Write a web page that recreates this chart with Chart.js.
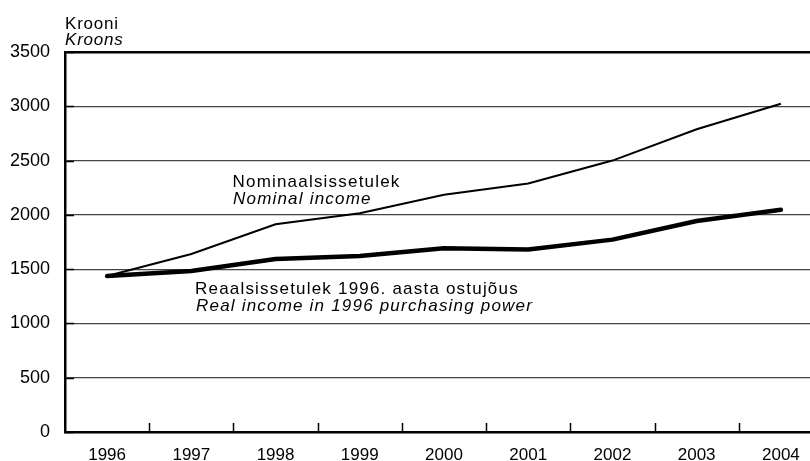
<!DOCTYPE html>
<html><head><meta charset="utf-8">
<script src="https://cdn.jsdelivr.net/npm/chart.js@4.4.0/dist/chart.umd.min.js"></script>
<style>
html,body{margin:0;padding:0;overflow:hidden;background:#fff;width:810px;height:461px}
#wrap{width:831px;height:461px;position:relative}
</style></head>
<body><div id="wrap"><canvas id="c" width="831" height="461"></canvas></div>
<script>
const years = ['1996','1997','1998','1999','2000','2001','2002','2003','2004'];
const nominal = [1436,1640,1913,2015,2185,2288,2500,2788,3024];
const real = [1436,1483,1593,1621,1692,1681,1772,1943,2047];
const yTicks = [0,500,1000,1500,2000,2500,3000,3500];
const yTitle = ['Krooni','Kroons'];
const nominalLabel = ['Nominaalsissetulek','Nominal income'];
const realLabel = ['Reaalsissetulek 1996. aasta ostujõus','Real income in 1996 purchasing power'];

const FONT = "'Liberation Sans', Arial, sans-serif";

const deco = {
  id: 'deco',
  afterDraw(chart) {
    const ctx = chart.ctx, xs = chart.scales.x, ys = chart.scales.y, a = chart.chartArea;
    ctx.save();
    ctx.strokeStyle = '#000';
    ctx.lineWidth = 1.5;
    yTicks.forEach(v => {
      const py = Math.round(ys.getPixelForValue(v)) + 0.5;
      ctx.beginPath(); ctx.moveTo(a.left, py); ctx.lineTo(a.left + 9, py); ctx.stroke();
    });
    for (let i = 1; i < years.length; i++) {
      const px = Math.round((xs.getPixelForValue(i - 1) + xs.getPixelForValue(i)) / 2) + 0.5;
      ctx.beginPath(); ctx.moveTo(px, a.bottom); ctx.lineTo(px, a.bottom - 9); ctx.stroke();
    }
    ctx.fillStyle = '#000';
    ctx.textBaseline = 'alphabetic';
    ctx.textAlign = 'left';
    ctx.letterSpacing = '0.8px';
    ctx.font = '17px ' + FONT;
    ctx.fillText(yTitle[0], 65, 28.5);
    ctx.font = 'italic 17px ' + FONT;
    ctx.fillText(yTitle[1], 65, 45);
    ctx.letterSpacing = '1.2px';
    ctx.font = '17px ' + FONT;
    ctx.fillText(nominalLabel[0], 232.5, 186.7);
    ctx.font = 'italic 17px ' + FONT;
    ctx.fillText(nominalLabel[1], 233, 204.3);
    ctx.font = '17px ' + FONT;
    ctx.fillText(realLabel[0], 195, 294.3);
    ctx.font = 'italic 17px ' + FONT;
    ctx.fillText(realLabel[1], 196, 310.7);
    ctx.restore();
  }
};

new Chart(document.getElementById('c'), {
  type: 'line',
  data: {
    labels: years,
    datasets: [
      { label: 'Nominal', data: nominal, borderColor: '#000', borderWidth: 2, pointRadius: 0, tension: 0, fill: false },
      { label: 'Real', data: real, borderColor: '#000', borderWidth: 4.5, pointRadius: 0, tension: 0, fill: false, borderCapStyle: 'round', borderJoinStyle: 'round' }
    ]
  },
  options: {
    responsive: false,
    devicePixelRatio: 1,
    animation: false,
    layout: { padding: { top: 52, right: 8, left: 0, bottom: 0 } },
    plugins: { legend: { display: false }, tooltip: { enabled: false } },
    scales: {
      x: {
        offset: true,
        grid: { display: false, drawTicks: false },
        border: { display: true, color: '#000', width: 2.5 },
        ticks: { color: '#000', font: { family: FONT, size: 17 }, padding: 13, maxRotation: 0, autoSkip: false },
        afterFit(s) { s.height = 29; }
      },
      y: {
        min: 0, max: 3500,
        afterBuildTicks(s) { s.ticks = yTicks.map(v => ({ value: v })); },
        grid: {
          drawTicks: false, tickLength: 0,
          color: c => c.tick && c.tick.value === 3500 ? '#000' : '#444',
          lineWidth: c => c.tick && c.tick.value === 3500 ? 2.5 : 1.2
        },
        border: { display: true, color: '#000', width: 2.5 },
        ticks: { color: '#000', font: { family: FONT, size: 18 }, padding: 15, callback: v => String(v) },
        afterFit(s) { s.width = 65; }
      }
    }
  },
  plugins: [deco]
});
</script>
</body></html>
